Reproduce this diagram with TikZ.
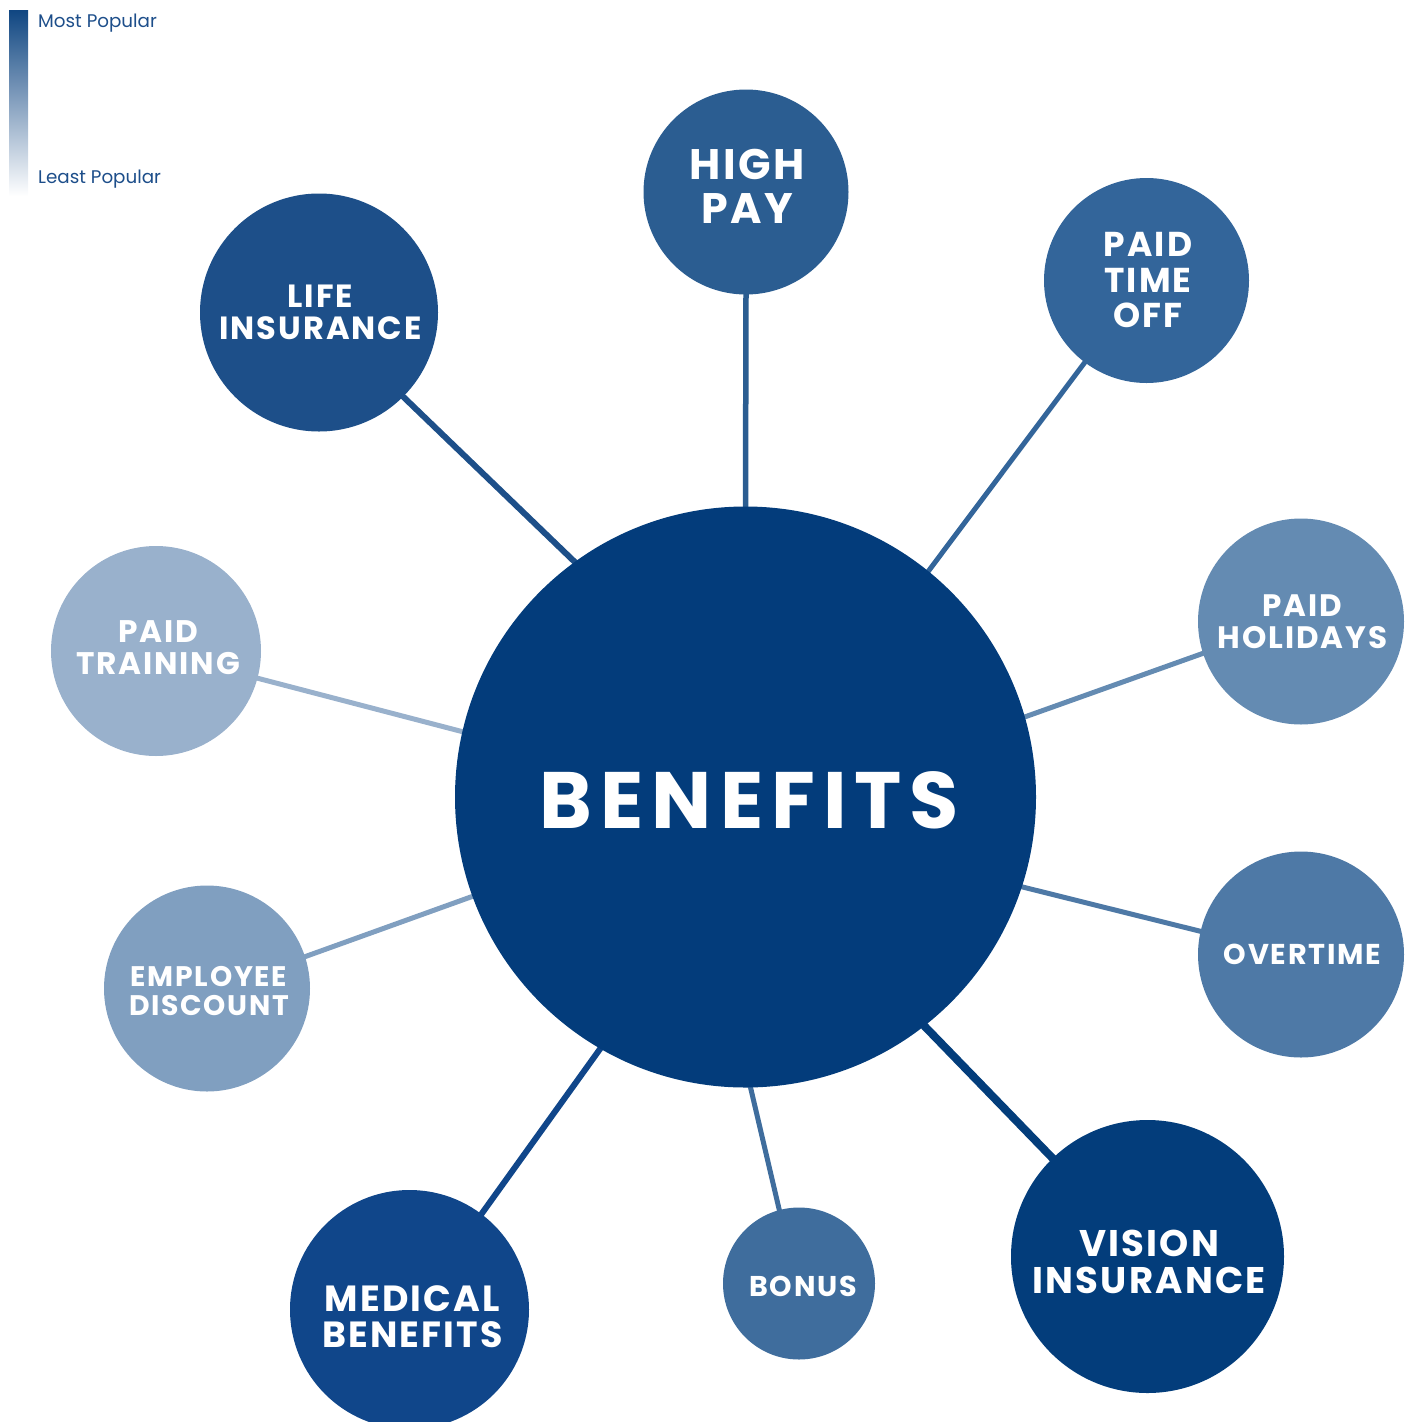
\documentclass[tikz,border=0pt]{standalone}
\usepackage{fontspec}
\newfontfamily\pop{Poppins}
\newfontfamily\popls{Poppins}[LetterSpace=6]
\newfontfamily\popbig{Poppins}[LetterSpace=10]
\usetikzlibrary{backgrounds}
\definecolor{cBen}{HTML}{033C7B}
\definecolor{cHigh}{HTML}{2B5D91}
\definecolor{cPto}{HTML}{33659A}
\definecolor{cLife}{HTML}{1D4F89}
\definecolor{cMed}{HTML}{10468A}
\definecolor{cHol}{HTML}{648BB2}
\definecolor{cOver}{HTML}{4E79A6}
\definecolor{cVis}{HTML}{033D7B}
\definecolor{cBonus}{HTML}{3F6D9D}
\definecolor{cEmp}{HTML}{809FC0}
\definecolor{cTrain}{HTML}{99B1CC}
\definecolor{cLegend}{HTML}{1D4E8A}
\tikzset{
  bubble/.style={circle, inner sep=0pt},
  btext/.style={text=white, align=center, inner sep=0pt},
  link/.style={line width=#1, shorten <=-6pt, shorten >=-6pt},
  lbl/.style={font=\pop\fontsize{18.3}{20}\selectfont, text=cLegend, anchor=base west, inner sep=0pt}
}
\newcommand{\fs}[2]{\popls\bfseries\fontsize{#1}{#2}\selectfont}
\begin{document}
\begin{tikzpicture}[x=1pt,y=-1pt]
\useasboundingbox (0,0) rectangle (1406,1422);
% legend
\shade[top color=cBen!95!white, bottom color=white] (9,10) rectangle (28,196);
\node[lbl] (most) at (38,27) {Most Popular};
\node[lbl] (least) at (38,183) {Least Popular};
% bubbles
\node[bubble, fill=cBen, minimum size=581pt] (ben) at (745.5,797) {};
\node[bubble, fill=cHigh, minimum size=205pt] (hp) at (746,192) {};
\node[bubble, fill=cPto, minimum size=205pt] (pto) at (1146.5,280.5) {};
\node[bubble, fill=cHol, minimum size=206pt] (hol) at (1301,621.5) {};
\node[bubble, fill=cOver, minimum size=206pt] (ot) at (1301,954.5) {};
\node[bubble, fill=cVis, minimum size=273pt] (vis) at (1147.5,1256.5) {};
\node[bubble, fill=cBonus, minimum size=152pt] (bon) at (799,1283.5) {};
\node[bubble, fill=cMed, minimum size=239pt] (med) at (409.5,1309.5) {};
\node[bubble, fill=cEmp, minimum size=206pt] (emp) at (207,988.5) {};
\node[bubble, fill=cTrain, minimum size=210pt] (tr) at (156,651) {};
\node[bubble, fill=cLife, minimum size=238pt] (li) at (319,312.5) {};
% labels
\node[btext, font=\popbig\bfseries\fontsize{80}{80}\selectfont, xshift=4pt, yshift=-3pt] (benT) at (ben.center) {BENEFITS};
\node[btext, font=\fs{42.7}{44}, xshift=1pt, yshift=6pt] (hpT) at (hp.center) {HIGH\\PAY};
\node[btext, font=\fs{34.5}{35.5}, xshift=1.5pt] (ptoT) at (pto.center) {PAID\\TIME\\OFF};
\node[btext, font=\fs{31}{32}, xshift=1.5pt] (holT) at (hol.center) {PAID\\HOLIDAYS};
\node[btext, font=\fs{28.7}{30}, xshift=1.5pt] (otT) at (ot.center) {OVERTIME};
\node[btext, font=\fs{37.1}{37}, xshift=1.5pt, yshift=-5pt] (visT) at (vis.center) {VISION\\INSURANCE};
\node[btext, font=\fs{28.6}{30}, xshift=4pt, yshift=-3pt] (bonT) at (bon.center) {BONUS};
\node[btext, font=\fs{36.4}{36}, xshift=3pt, yshift=-7pt] (medT) at (med.center) {MEDICAL\\BENEFITS};
\node[btext, font=\fs{28.3}{29}, xshift=2pt, yshift=-3pt] (empT) at (emp.center) {EMPLOYEE\\DISCOUNT};
\node[btext, font=\fs{31.2}{32}, xshift=2pt, yshift=3pt] (trT) at (tr.center) {PAID\\TRAINING};
\node[btext, font=\fs{32.1}{32}, xshift=1.5pt] (liT) at (li.center) {LIFE\\INSURANCE};
% connectors
\begin{pgfonlayer}{background}
\draw[link=6pt, cLife] (li.-45) -- (ben.126.6);
\draw[link=5.5pt, cHigh] (hp.-90) -- (ben.90);
\draw[link=5pt, cPto] (pto.233.3) -- (ben.51);
\draw[link=5pt, cHol] (hol.198.7) -- (ben.16.5);
\draw[link=5pt, cOver] (ot.167.4) -- (ben.-18.2);
\draw[link=8pt, cVis] (vis.134.7) -- (ben.-52.9);
\draw[link=5pt, cBonus] (bon.105.4) -- (ben.-89.9);
\draw[link=6pt, cMed] (med.53.3) -- (ben.240.3);
\draw[link=5pt, cEmp] (emp.18.9) -- (ben.200.8);
\draw[link=5pt, cTrain] (tr.-15.9) -- (ben.167.7);
\end{pgfonlayer}
\end{tikzpicture}
\end{document}
